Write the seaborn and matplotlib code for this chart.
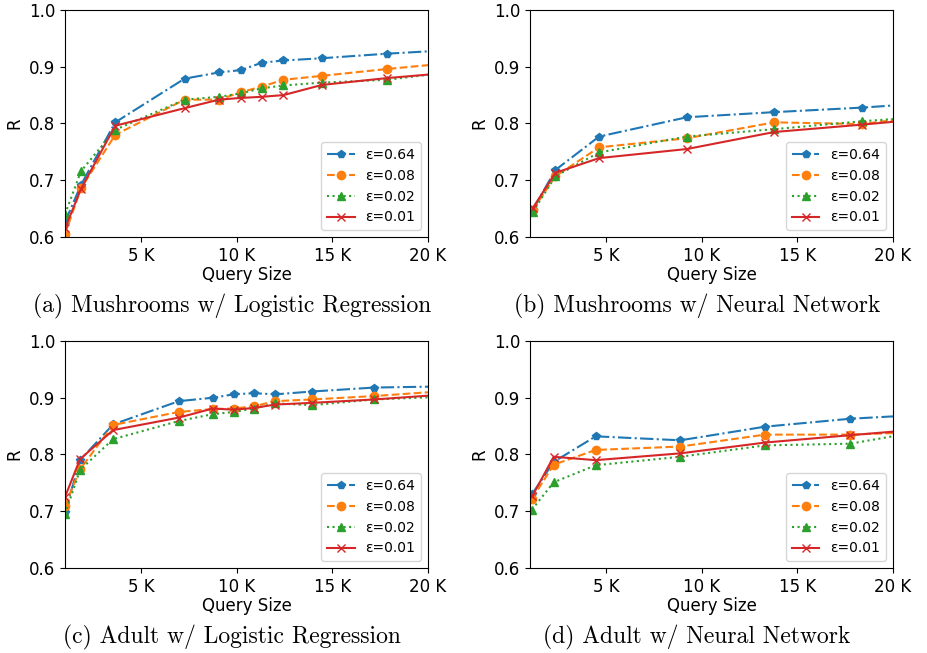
import numpy as np
import pandas as pd
import seaborn as sns
import matplotlib.pyplot as plt
from matplotlib.ticker import FixedLocator, FuncFormatter

# privacy levels and plot styling per series
eps_labels = ["ε=0.64", "ε=0.08", "ε=0.02", "ε=0.01"]
colors = ["#1f77b4", "#ff7f0e", "#2ca02c", "#d62728"]
markers = ["p", "o", "^", "x"]
linestyles = ["-.", "--", ":", "-"]

# (a) Mushrooms w/ Logistic Regression
x_a = [1000, 1840, 3630, 7260, 9060, 10190, 11300, 12430, 14460, 17850, 21000]
r_a = [
    [0.626, 0.692, 0.802, 0.879, 0.890, 0.894, 0.907, 0.911, 0.915, 0.923, 0.929],
    [0.605, 0.686, 0.780, 0.842, 0.842, 0.855, 0.865, 0.877, 0.884, 0.896, 0.906],
    [0.640, 0.716, 0.789, 0.842, 0.847, 0.853, 0.862, 0.867, 0.872, 0.877, 0.890],
    [0.615, 0.685, 0.796, 0.827, 0.842, 0.845, 0.847, 0.850, 0.868, 0.880, 0.889],
]

# (b) Mushrooms w/ Neural Network
x_b = [1150, 2330, 4620, 9220, 13790, 18390, 21000]
r_b = [
    [0.648, 0.718, 0.777, 0.811, 0.820, 0.828, 0.834],
    [0.648, 0.707, 0.758, 0.774, 0.802, 0.799, 0.810],
    [0.644, 0.707, 0.749, 0.777, 0.790, 0.804, 0.810],
    [0.651, 0.713, 0.739, 0.755, 0.785, 0.798, 0.806],
]

# (c) Adult w/ Logistic Regression
x_c = [1000, 1790, 3520, 6960, 8730, 9830, 10900, 12000, 13940, 17200, 21000]
r_c = [
    [0.698, 0.790, 0.853, 0.894, 0.900, 0.906, 0.908, 0.906, 0.911, 0.918, 0.920],
    [0.710, 0.774, 0.852, 0.875, 0.880, 0.881, 0.885, 0.894, 0.897, 0.903, 0.912],
    [0.695, 0.773, 0.827, 0.859, 0.871, 0.875, 0.881, 0.890, 0.887, 0.897, 0.902],
    [0.725, 0.792, 0.843, 0.865, 0.881, 0.879, 0.882, 0.888, 0.891, 0.897, 0.906],
]

# (d) Adult w/ Neural Network
x_d = [1110, 2240, 4440, 8870, 13300, 17760, 21000]
r_d = [
    [0.730, 0.787, 0.832, 0.825, 0.849, 0.863, 0.869],
    [0.722, 0.782, 0.808, 0.814, 0.835, 0.835, 0.839],
    [0.703, 0.751, 0.781, 0.796, 0.816, 0.819, 0.838],
    [0.726, 0.796, 0.790, 0.802, 0.821, 0.834, 0.843],
]

panels = [
    (x_a, r_a, "(a) Mushrooms w/ Logistic Regression"),
    (x_b, r_b, "(b) Mushrooms w/ Neural Network"),
    (x_c, r_c, "(c) Adult w/ Logistic Regression"),
    (x_d, r_d, "(d) Adult w/ Neural Network"),
]

fig = plt.figure(figsize=(9.27, 6.53), dpi=100)
lefts = [0.0701, 0.5717, 0.0701, 0.5717]
bottoms = [0.6371, 0.6371, 0.1302, 0.1302]

for i, (xs, rs, caption) in enumerate(panels):
    ax = fig.add_axes([lefts[i], bottoms[i], 0.3916, 0.3476])
    for j in range(4):
        df = pd.DataFrame({"Query Size": xs, "R": rs[j]})
        sns.lineplot(data=df, x="Query Size", y="R", ax=ax, label=eps_labels[j],
                     color=colors[j], marker=markers[j], linestyle=linestyles[j],
                     markersize=6, mec=colors[j], mew=1.0, lw=1.5)
    ax.set_xlim(1000, 20000)
    ax.set_ylim(0.6, 1.0)
    ax.xaxis.set_major_locator(FixedLocator([5000, 10000, 15000, 20000]))
    ax.xaxis.set_major_formatter(FuncFormatter(lambda v, p: f"{int(v / 1000)} K"))
    ax.set_yticks([0.6, 0.7, 0.8, 0.9, 1.0])
    ax.tick_params(labelsize=12)
    ax.set_xlabel("Query Size", fontsize=12, labelpad=1)
    ax.set_ylabel("R", fontsize=12)
    ax.legend(loc="lower right", fontsize=10)
    ax.text(0.46, -0.305, caption, transform=ax.transAxes, ha="center", va="center",
            fontsize=17, fontfamily="cmr10")

fig.savefig("out.png", dpi=100)
